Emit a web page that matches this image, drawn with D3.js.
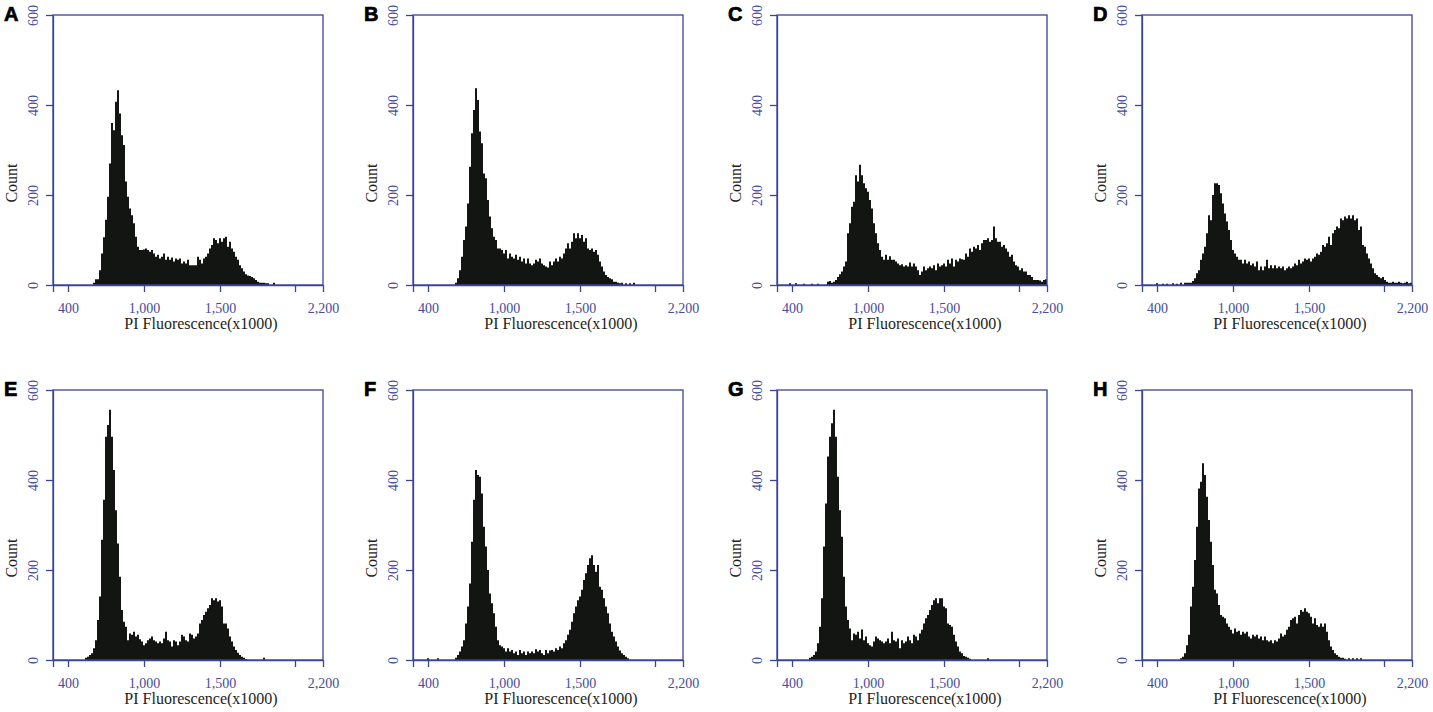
<!DOCTYPE html>
<html>
<head>
<meta charset="utf-8">
<script src="https://cdn.jsdelivr.net/npm/d3@7"></script>
<style>
  html, body { margin: 0; padding: 0; background: #fff; }
  svg { display: block; }
  .axis path, .axis line { stroke: #3b4497; stroke-width: 1.3; }
  .axis text { fill: #464c9c; font-family: "Liberation Serif", "Times New Roman", serif; font-size: 14px; }
  .title { fill: #1e1e1e; font-family: "Liberation Serif", "Times New Roman", serif; font-size: 16px; }
  .letter { fill: #000; font-family: "Liberation Sans", Arial, sans-serif; font-weight: bold; font-size: 20px; }
</style>
</head>
<body>
<svg id="chart" width="1433" height="712"></svg>
<script>
// panel letters
var panelNames = ["A", "B", "C", "D", "E", "F", "G", "H"];

// first histogram channel of each panel (bins of equal width)
var startA = 20, startB = 21, startC = 6, startD = 7, startE = 16, startF = 7, startG = 16, startH = 19;

// counts per channel
var countsA = [5,13,13,33,70,106,145,196,270,360,344,407,433,381,333,311,230,196,170,155,137,107,85,78,78,79,81,78,74,78,70,63,67,59,63,70,56,63,56,61,52,59,56,59,48,52,48,56,44,44,44,44,63,56,48,59,63,70,81,89,104,100,93,104,96,104,107,85,96,81,74,63,56,44,37,30,24,21,20,18,15,11,7,5,5,5,4,4,0,0,5];
var countsB = [5,15,33,63,100,130,181,263,337,389,437,411,341,315,248,237,189,152,126,107,100,81,81,78,70,78,59,70,63,59,67,56,63,52,59,48,59,48,44,48,56,52,59,48,44,41,39,52,44,52,59,52,63,59,70,81,93,81,96,115,104,115,104,111,96,104,81,78,81,74,78,67,52,41,30,22,18,15,13,7,7,5,4,5,0,4,0,4,0,5];
var countsC = [4,0,0,4,0,0,0,3,0,0,0,3,0,0,3,0,0,0,0,7,9,5,7,11,18,24,30,41,52,115,137,174,185,244,230,267,244,226,215,207,189,170,137,115,93,78,63,56,67,56,64,56,56,52,48,44,46,41,44,41,50,41,48,41,33,22,30,41,33,37,41,37,44,33,48,41,44,48,41,56,48,59,41,56,52,59,57,56,70,63,81,74,85,81,89,78,93,100,100,104,96,100,130,104,96,96,85,89,81,74,63,67,52,44,41,33,37,30,30,22,22,18,11,11,11,10,7,11,13];
var countsD = [4,0,0,3,0,3,0,0,4,0,3,0,5,0,5,5,5,5,9,15,26,33,56,70,85,115,155,144,200,226,226,222,204,181,159,141,122,100,78,70,63,56,56,48,56,48,52,44,48,41,52,33,41,33,41,56,37,44,37,44,37,41,37,41,33,37,41,37,41,48,44,56,48,52,59,56,59,52,59,63,70,67,74,89,85,93,107,89,115,122,130,126,148,144,152,148,155,148,155,144,148,122,130,89,85,70,59,48,37,26,22,18,15,18,11,7,5,5,7,5,5,7,5,4,5,7,4,5];
var countsE = [5,7,11,15,26,44,89,141,267,356,496,522,556,496,422,333,259,185,111,85,74,44,59,56,63,52,56,46,41,33,37,44,48,52,44,41,37,41,37,48,63,44,41,30,44,41,33,41,56,52,44,41,59,56,48,52,59,81,89,100,107,115,122,137,133,137,130,133,119,81,81,70,52,41,30,22,16,11,7,5,2,0,0,0,0,0,0,0,0,5];
var countsF = [4,0,0,0,0,4,0,0,0,0,0,0,0,0,5,11,19,30,44,81,119,170,263,356,422,411,407,370,296,252,200,148,126,104,74,44,33,30,26,19,26,19,22,15,19,11,22,15,19,11,19,15,19,15,24,19,22,15,11,22,15,21,22,19,26,22,30,26,37,44,56,67,85,104,119,133,141,156,178,193,211,226,233,211,196,211,163,156,137,119,104,81,63,52,41,30,21,15,11,7,4];
var countsG = [5,7,11,19,37,74,137,252,348,452,496,526,556,496,407,333,274,185,119,89,70,44,59,56,63,48,68,44,52,37,33,30,41,52,48,44,41,37,41,48,37,63,44,41,48,26,44,37,41,52,44,37,56,52,44,59,67,81,93,100,111,122,133,137,126,137,137,119,115,81,78,74,56,41,30,19,15,9,7,5,3,0,0,0,0,0,0,0,0,4];
var countsH = [4,7,15,33,56,119,163,222,296,381,396,437,411,363,311,263,211,156,148,122,100,96,93,81,74,67,59,70,63,65,56,63,59,63,52,48,56,52,56,48,52,44,52,44,41,44,37,44,41,48,59,52,56,67,74,89,93,96,81,100,111,107,115,107,104,96,81,93,78,74,81,74,81,63,44,30,22,15,11,7,5,5,3,0,4,0,4,0,4,0,4];

var starts = [startA, startB, startC, startD, startE, startF, startG, startH];
var series = [countsA, countsB, countsC, countsD, countsE, countsF, countsG, countsH];

// axis ticks (channel positions and their printed labels)
var channelCount = 135;
var xTickChannels = [0, 7.5, 45.5, 83.5, 121, 135];
var xTickLabels = ["", "400", "1,000", "1,500", "", "2,200"];
var yTicks = [0, 200, 400, 600];
var yMax = 600;

var xTitle = "PI Fluorescence(x1000)";
var yTitle = "Count";

// layout
var boxSize = 270;
var colLefts = [53, 413, 777, 1142];
var rowTops = [15, 390];

var svg = d3.select("#chart");

var x = d3.scaleLinear().domain([0, channelCount]).range([0, boxSize]);
var y = d3.scaleLinear().domain([0, yMax]).range([boxSize, 0]);

var area = d3.area()
    .curve(d3.curveStepAfter)
    .x(function (d) { return x(d.ch); })
    .y0(y(0))
    .y1(function (d) { return y(d.n); });

series.forEach(function (counts, i) {
    var g = svg.append("g")
        .attr("transform", "translate(" + colLefts[i % 4] + "," + rowTops[Math.floor(i / 4)] + ")");

    var pts = counts.map(function (n, k) { return { ch: starts[i] + k, n: n }; });
    pts.push({ ch: starts[i] + counts.length, n: 0 });

    g.append("path")
        .datum(pts)
        .attr("d", area)
        .attr("fill", "#121511");

    // frame
    g.append("rect")
        .attr("width", boxSize)
        .attr("height", boxSize)
        .attr("fill", "none")
        .attr("stroke", "#3b4497")
        .attr("stroke-width", 1.3);

    var xAxis = g.append("g")
        .attr("class", "axis")
        .attr("transform", "translate(0," + boxSize + ")")
        .call(d3.axisBottom(x)
            .tickValues(xTickChannels)
            .tickFormat(function (d, j) { return xTickLabels[j]; })
            .tickSize(7)
            .tickSizeOuter(0));
    xAxis.selectAll("text").attr("y", 28).attr("dy", 0);

    var yAxis = g.append("g")
        .attr("class", "axis")
        .call(d3.axisLeft(y)
            .tickValues(yTicks)
            .tickSize(7)
            .tickSizeOuter(0));
    yAxis.selectAll("text")
        .attr("transform", "rotate(-90)")
        .attr("x", 0)
        .attr("y", -15)
        .attr("dy", 0)
        .attr("text-anchor", "middle");

    g.append("text")
        .attr("class", "title")
        .attr("x", boxSize / 2 + 13)
        .attr("y", boxSize + 44)
        .attr("text-anchor", "middle")
        .text(xTitle);

    g.append("text")
        .attr("class", "title")
        .attr("transform", "translate(-36," + (boxSize / 2 + 33) + ") rotate(-90)")
        .attr("text-anchor", "middle")
        .text(yTitle);

    g.append("text")
        .attr("class", "letter")
        .attr("x", -49)
        .attr("y", 6)
        .attr("stroke", "#000")
        .attr("stroke-width", 0.7)
        .text(panelNames[i]);
});
</script>
</body>
</html>
